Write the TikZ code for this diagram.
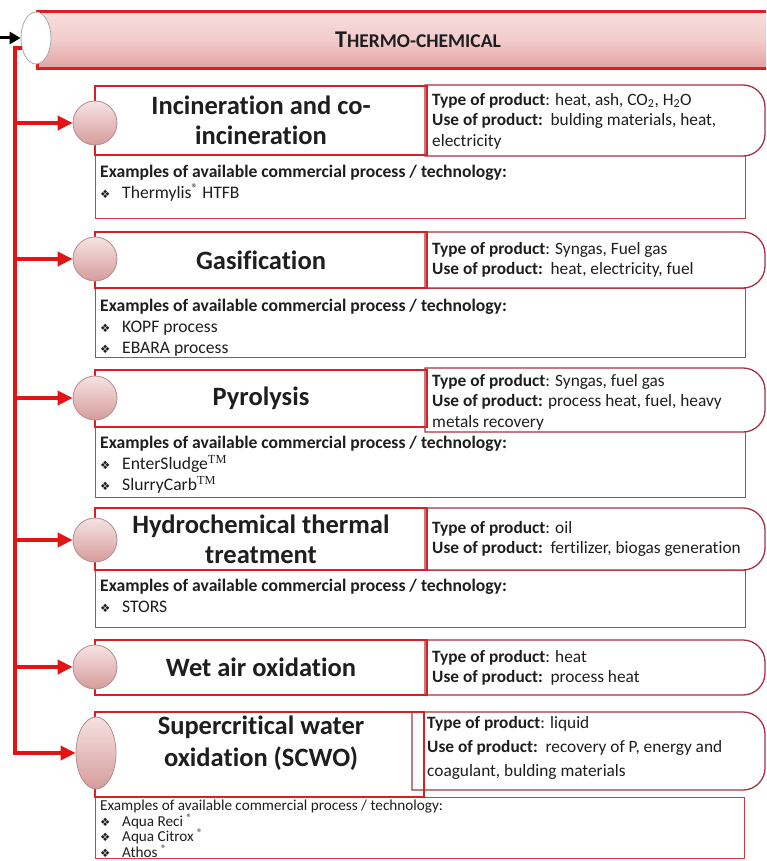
\documentclass[tikz,border=0pt]{standalone}
\usepackage{fontspec}
\setmainfont{Carlito}[Ligatures=CommonOff]
\newfontfamily\dingfont{DejaVu Sans}
\newfontfamily\tmfont{Liberation Serif}
\usetikzlibrary{arrows.meta,shapes.geometric}
\definecolor{lineRed}{RGB}{226,20,20}
\definecolor{boxRed}{RGB}{214,32,36}
\definecolor{thinRed}{RGB}{206,60,72}
\definecolor{prodRed}{RGB}{170,50,64}
\definecolor{pinkTop}{RGB}{246,226,226}
\definecolor{pinkBot}{RGB}{214,156,156}
\definecolor{circEdge}{RGB}{180,140,140}
\definecolor{hdrTop}{RGB}{248,222,222}
\definecolor{hdrMid}{RGB}{242,204,204}
\definecolor{hdrBot}{RGB}{226,162,162}
\definecolor{txt}{RGB}{30,30,30}
\newcommand{\bul}{\makebox[22pt][l]{{\dingfont\fontsize{11.5}{11.5}\selectfont ❖}}}
\newcommand{\TMark}{\textsuperscript{\tmfont TM}}
\newcommand{\regm}{\textsuperscript{\textregistered}}
\newcommand{\prodshape}[4]{%
  \draw[prodline] (#1,#4) -- (#1,#2) -- (590,#2) [rounded corners=22pt] -- (600,#2) -- (#3,#2) -- (#3,#4) -- (600,#4) -- (590,#4) [sharp corners] -- cycle;}
\begin{document}
\begin{tikzpicture}[x=1pt,y=-1pt,
  trunk/.style={draw=lineRed, line width=4pt},
  branch/.style={draw=lineRed, line width=4pt, -{Triangle[length=15pt,width=14pt]}},
  titlebox/.style={draw=boxRed, line width=2.6pt, inner sep=0pt, align=center, text=txt,
     font=\bfseries\fontsize{26.5}{30}\selectfont},
  exbox/.style={draw=thinRed, line width=1.3pt, anchor=north west, inner sep=0pt, minimum width=650pt},
  prodline/.style={draw=prodRed, line width=1.3pt, fill=white},
  knob/.style={ellipse, draw=circEdge, line width=0.8pt, top color=pinkTop, bottom color=pinkBot,
     minimum width=44pt, minimum height=44pt, inner sep=0pt},
  ptext/.style={font=\fontsize{17.3}{20.5}\selectfont, align=left, anchor=north west, inner sep=0pt, text=txt},
  etext/.style={font=\fontsize{17.6}{21}\selectfont, align=left, anchor=north west, inner sep=0pt, text=txt},
]
\clip (0,0) rectangle (766,861);
\fill[white] (0,0) rectangle (766,861);

% header
\node[draw=boxRed, line width=2.6pt, anchor=north west, minimum width=740pt, minimum height=57pt,
  top color=hdrTop, bottom color=hdrBot, middle color=hdrMid, inner sep=0pt] (hdr) at (36,10) {};
\node[text=txt, font=\bfseries, inner sep=0pt] (hdrtxt) at (418,40)
  {{\fontsize{24}{24}\selectfont T}{\fontsize{19.5}{19.5}\selectfont HERMO-CHEMICAL}};
\node[ellipse, draw=gray!70, line width=0.8pt, fill=white, minimum width=30pt, minimum height=52pt, inner sep=0pt] (hc) at (36,38) {};
\coordinate (inarr) at (0,38);
\draw[line width=3pt, -{Triangle[length=11pt,width=12pt]}] (inarr) -- (hc.west);

% ---------- block 1
\node[exbox, minimum height=63pt] (e1) at (95,155) {};
\node[etext] (e1t) at (100,165) {\textbf{Examples of available commercial process / technology:}\\ \bul Thermylis\regm{} HTFB};
\prodshape{425}{85}{765}{156}
\node[ptext] (p1t) at (432,93) {\textbf{Type of product}: heat, ash, CO\textsubscript{2}, H\textsubscript{2}O\\ \textbf{Use of product:}\ \ bulding materials, heat,\\ electricity};
\node[titlebox, minimum width=332pt, minimum height=69pt] (t1) at (261,120.5) {Incineration and co-\\ incineration};
\node[knob] (c1) at (95,123) {};

% ---------- block 2
\node[exbox, minimum height=69pt] (e2) at (95,288) {};
\node[etext] (e2t) at (100,299) {\textbf{Examples of available commercial process / technology:}\\ \bul KOPF process\\ \bul EBARA process};
\prodshape{425}{232}{765}{288}
\node[ptext] (p2t) at (432,242) {\textbf{Type of product}: Syngas, Fuel gas\\ \textbf{Use of product:}\ \ heat, electricity, fuel};
\node[titlebox, minimum width=332pt, minimum height=56pt] (t2) at (261,260) {Gasification};
\node[knob] (c2) at (95,259) {};

% ---------- block 3
\node[exbox, minimum height=70pt] (e3) at (95,427) {};
\node[etext] (e3t) at (100,436) {\textbf{Examples of available commercial process / technology:}\\ \bul EnterSludge\TMark\\ \bul SlurryCarb\TMark};
\prodshape{425}{368}{765}{432}
\node[ptext] (p3t) at (432,374) {\textbf{Type of product}: Syngas, fuel gas\\ \textbf{Use of product:} process heat, fuel, heavy\\ metals recovery};
\node[titlebox, minimum width=332pt, minimum height=57pt] (t3) at (261,398.5) {Pyrolysis};
\node[knob] (c3) at (95,398) {};

% ---------- block 4
\node[exbox, minimum height=57pt] (e4) at (95,570) {};
\node[etext] (e4t) at (100,579) {\textbf{Examples of available commercial process / technology:}\\ \bul STORS};
\prodshape{425}{508}{765}{570}
\node[ptext] (p4t) at (432,521) {\textbf{Type of product}: oil\\ \textbf{Use of product:}\ \ fertilizer, biogas generation};
\node[titlebox, minimum width=332pt, minimum height=62pt] (t4) at (261,539) {Hydrochemical thermal\\ treatment};
\node[knob] (c4) at (95,540) {};

% ---------- block 5
\prodshape{425}{640}{765}{695}
\node[ptext] (p5t) at (432,650) {\textbf{Type of product}: heat\\ \textbf{Use of product:}\ \ process heat};
\node[titlebox, minimum width=332pt, minimum height=55pt] (t5) at (261,667.5) {Wet air oxidation};
\node[knob] (c5) at (95,667) {};

% ---------- block 6
\node[exbox, minimum width=649pt, minimum height=61pt] (e6) at (95,797) {};
\node[etext, font=\fontsize{15.2}{15.6}\selectfont] (e6t) at (100,800) {Examples of available commercial process / technology:\\ \bul Aqua Reci \regm\\ \bul Aqua Citrox \regm\\ \bul Athos \regm};
\prodshape{412}{712}{765}{790}
\node[ptext, font=\fontsize{17.3}{24}\selectfont] (p6t) at (427,716) {\textbf{Type of product}: liquid\\ \textbf{Use of product:}\ \ recovery of P, energy and\\ coagulant, bulding materials};
\node[titlebox, minimum width=329pt, minimum height=85pt] (t6) at (259.5,754.5) {};
\node[align=center, inner sep=0pt, text=txt, font=\bfseries\fontsize{26.5}{32}\selectfont] (t6t) at (261,743) {Supercritical water\\ oxidation (SCWO)};
\node[knob, minimum width=40pt, minimum height=72pt] (c6) at (96,753) {};

% ---------- connectors
\coordinate (b1) at (15,123);
\coordinate (b2) at (15,259);
\coordinate (b3) at (15,398);
\coordinate (b4) at (15,540);
\coordinate (b5) at (15,667);
\coordinate (b6) at (15,753);
\draw[trunk, -{Triangle[length=15pt,width=14pt]}] (hc.215) -| (b6) -- (c6.west);
\draw[branch] (b1) -- (c1.west);
\draw[branch] (b2) -- (c2.west);
\draw[branch] (b3) -- (c3.west);
\draw[branch] (b4) -- (c4.west);
\draw[branch] (b5) -- (c5.west);
\end{tikzpicture}
\end{document}
